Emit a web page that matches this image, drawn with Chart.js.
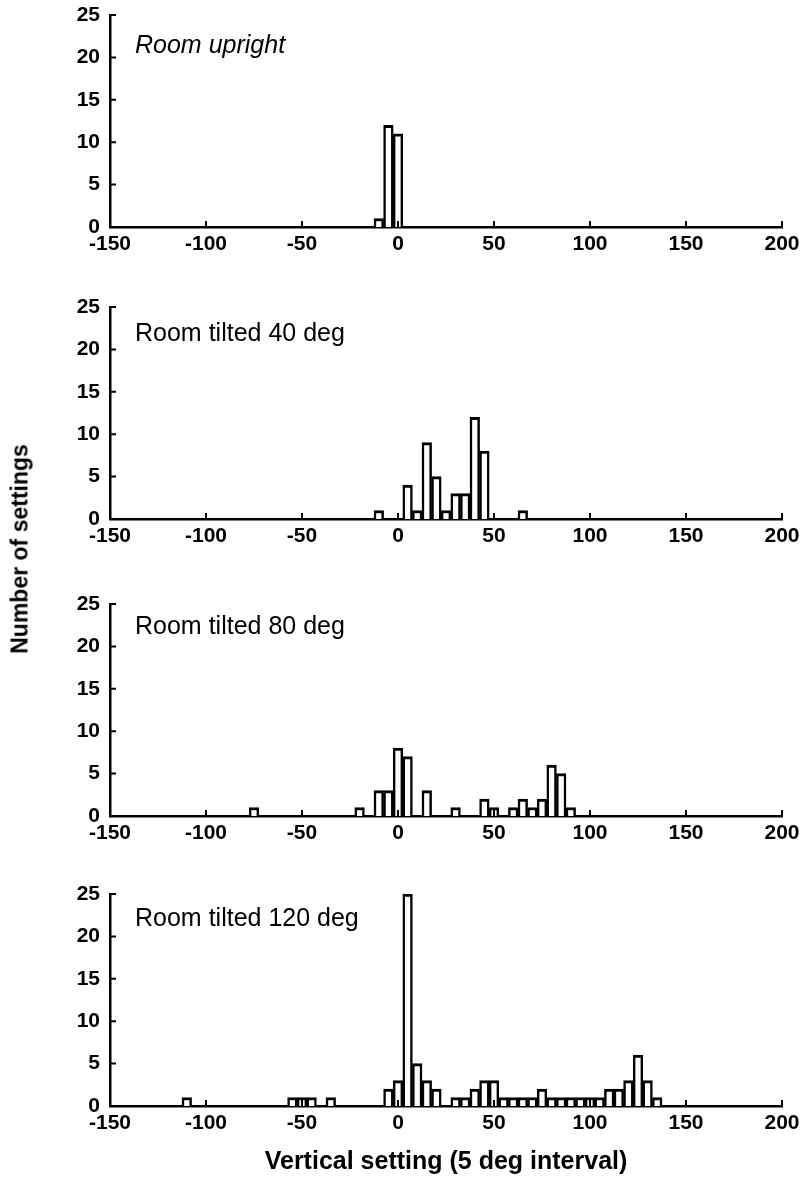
<!DOCTYPE html>
<html lang="en">
<head>
<meta charset="UTF-8">
<title>Vertical settings by room tilt</title>
<script src="https://cdn.jsdelivr.net/npm/chart.js"></script>
<style>
  body { margin: 0; background: #fff; }
  #page {
    position: relative;
    width: 803px;
    height: 1189px;
    overflow: hidden;
    font-family: "Liberation Sans", Arial, sans-serif;
  }
  #page canvas { position: absolute; left: 0; }
  #ytitle {
    position: absolute;
    left: 20px;
    top: 549px;
    transform: translate(-50%, -50%) rotate(-90deg);
    font-size: 23px;
    font-weight: bold;
    white-space: nowrap;
    color: #000;
  }
</style>
</head>
<body>
<div id="page">
  <canvas id="p1"></canvas>
  <canvas id="p2"></canvas>
  <canvas id="p3"></canvas>
  <canvas id="p4"></canvas>
  <div id="ytitle">Number of settings</div>
</div>
<script>
// histogram bins (5 deg wide, value = bin centre) and counts
const uprightBins = [-10, -5, 0];
const uprightCounts = [1, 12, 11];

const tilt40Bins = [-10, 5, 10, 15, 20, 25, 30, 35, 40, 45, 65];
const tilt40Counts = [1, 4, 1, 9, 5, 1, 3, 3, 12, 8, 1];

const tilt80Bins = [-75, -20, -10, -5, 0, 5, 15, 30, 45, 50, 60, 65, 70, 75, 80, 85, 90];
const tilt80Counts = [1, 1, 3, 3, 8, 7, 3, 1, 2, 1, 1, 2, 1, 2, 6, 5, 1];

const tilt120Bins = [-110, -55, -50, -45, -35, -5, 0, 5, 10, 15, 20, 30, 35, 40, 45, 50, 55, 60,
  65, 70, 75, 80, 85, 90, 95, 100, 105, 110, 115, 120, 125, 130, 135];
const tilt120Counts = [1, 1, 1, 1, 1, 2, 3, 25, 5, 3, 2, 1, 1, 2, 3, 3, 1, 1,
  1, 1, 2, 1, 1, 1, 1, 1, 1, 2, 2, 3, 6, 3, 1];

const xTicks = [-150, -100, -50, 0, 50, 100, 150, 200];
const yTicks = [0, 5, 10, 15, 20, 25];

const captions = ['Room upright', 'Room tilted 40 deg', 'Room tilted 80 deg', 'Room tilted 120 deg'];
const xTitle = 'Vertical setting (5 deg interval)';

const FONT = '"Liberation Sans", Arial, sans-serif';

// short tick marks pointing into the plot, plus the panel caption
const panelDecor = {
  id: 'panelDecor',
  afterDraw(chart, args, opts) {
    const { ctx, chartArea: a, scales: { x, y } } = chart;
    ctx.save();
    ctx.strokeStyle = '#000';
    ctx.lineWidth = 2;
    ctx.beginPath();
    x.ticks.forEach(t => {
      const px = x.getPixelForValue(t.value);
      ctx.moveTo(px, a.bottom);
      ctx.lineTo(px, a.bottom - 6);
    });
    y.ticks.forEach(t => {
      const py = y.getPixelForValue(t.value);
      ctx.moveTo(a.left, py);
      ctx.lineTo(a.left + 6, py);
    });
    ctx.stroke();

    ctx.fillStyle = '#000';
    ctx.font = (opts.italic ? 'italic ' : '') + '25px ' + FONT;
    ctx.textBaseline = 'middle';
    ctx.textAlign = 'left';
    ctx.fillText(opts.text, a.left + 25, a.top + opts.dy);
    ctx.restore();
  }
};

const panels = [
  { id: 'p1', bins: uprightBins, counts: uprightCounts, caption: captions[0], italic: true, top: 15, dy: 31 },
  { id: 'p2', bins: tilt40Bins, counts: tilt40Counts, caption: captions[1], top: 307, dy: 27 },
  { id: 'p3', bins: tilt80Bins, counts: tilt80Counts, caption: captions[2], top: 604, dy: 23 },
  { id: 'p4', bins: tilt120Bins, counts: tilt120Counts, caption: captions[3], top: 894, dy: 25, last: true }
];

const plotH = 212;
const padTop = 16;

panels.forEach(p => {
  const axisH = p.last ? 80 : 40;
  const cv = document.getElementById(p.id);
  cv.width = 803;
  cv.height = padTop + plotH + axisH;
  cv.style.top = (p.top - padTop) + 'px';

  new Chart(cv, {
    type: 'bar',
    data: {
      datasets: [{
        data: p.bins.map((b, i) => ({ x: b, y: p.counts[i] })),
        backgroundColor: '#fff',
        borderColor: '#000',
        borderWidth: { top: 3, left: 2.5, right: 2.5, bottom: 0 },
        borderSkipped: 'start',
        barPercentage: 1,
        categoryPercentage: 1
      }]
    },
    options: {
      responsive: false,
      animation: false,
      devicePixelRatio: 1,
      layout: { padding: { left: 60, right: 21, top: padTop, bottom: 0 } },
      plugins: {
        legend: { display: false },
        tooltip: { enabled: false },
        panelDecor: { text: p.caption, italic: !!p.italic, dy: p.dy }
      },
      scales: {
        x: {
          type: 'linear',
          min: -150,
          max: 200,
          offset: false,
          afterBuildTicks: s => { s.ticks = xTicks.map(v => ({ value: v })); },
          afterFit: s => { s.height = axisH; },
          grid: { display: false },
          border: { display: true, color: '#000', width: 2.5 },
          ticks: {
            color: '#000',
            padding: -3,
            maxRotation: 0,
            autoSkip: false,
            font: { family: FONT, size: 21, weight: 'bold' }
          },
          title: {
            display: !!p.last,
            text: xTitle,
            color: '#000',
            padding: { top: 0, bottom: 9 },
            font: { family: FONT, size: 25, weight: 'bold' }
          }
        },
        y: {
          min: 0,
          max: 25,
          afterBuildTicks: s => { s.ticks = yTicks.map(v => ({ value: v })); },
          afterFit: s => { s.width = 50; },
          grid: { display: false },
          border: { display: true, color: '#000', width: 2.5 },
          ticks: {
            color: '#000',
            padding: 2,
            font: { family: FONT, size: 21, weight: 'bold' }
          }
        }
      }
    },
    plugins: [panelDecor]
  });
});
</script>
</body>
</html>
